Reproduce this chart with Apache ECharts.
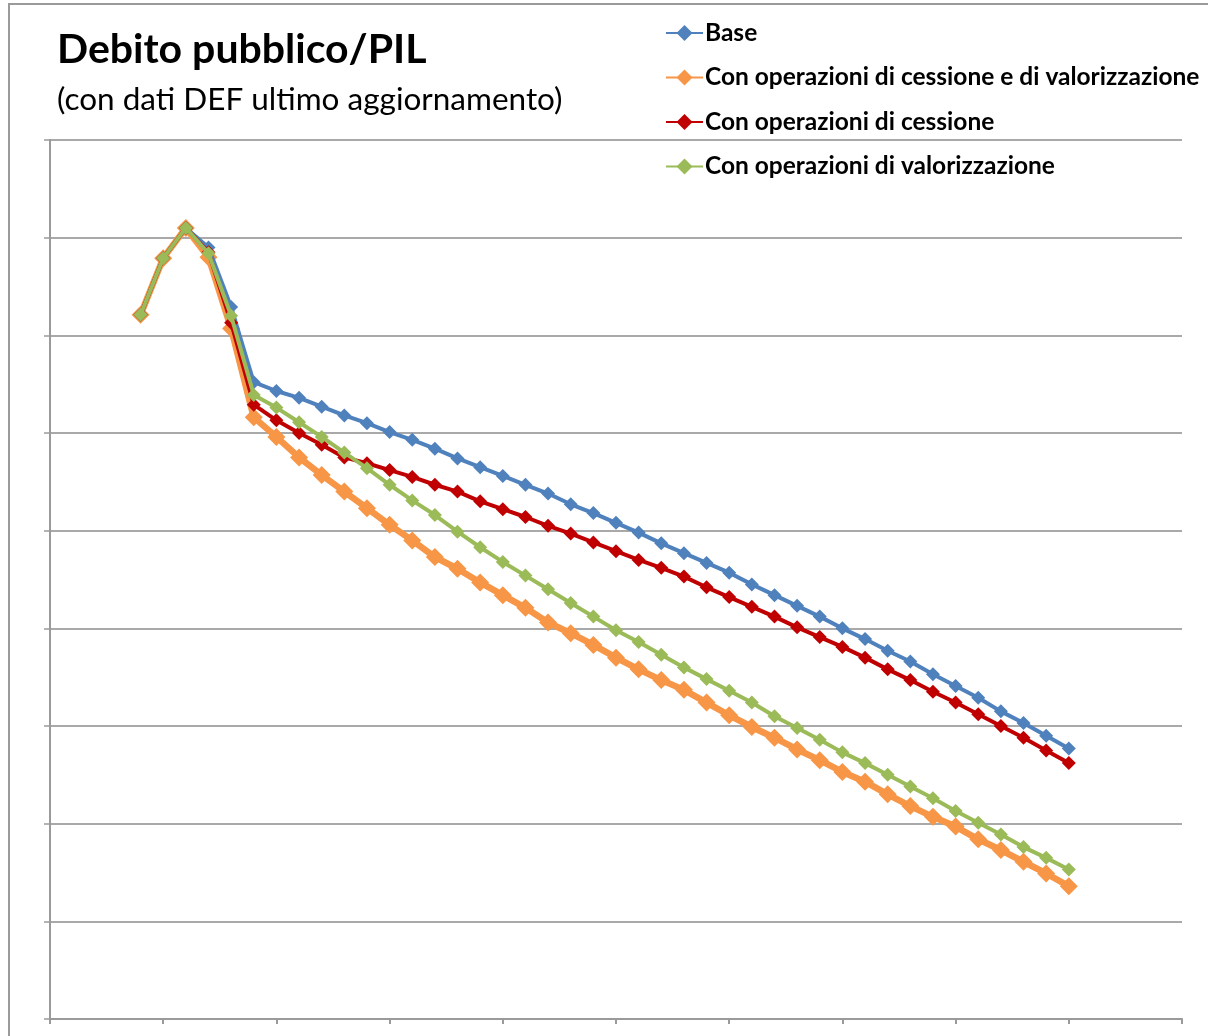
<!DOCTYPE html>
<html>
<head>
<meta charset="utf-8">
<script src="https://cdn.jsdelivr.net/npm/echarts@6/dist/echarts.min.js"></script>
<style>
html,body{margin:0;padding:0;background:#fff;}
#chart{width:1208px;height:1036px;}
</style>
</head>
<body>
<div id="chart"></div>
<script>
// categories: 51 positions (years), ticks every 5
const categories = [];
for (let y = 2007; y <= 2057; y++) categories.push(String(y));

const seriesNames = [
  'Base',
  'Con operazioni di cessione e di valorizzazione',
  'Con operazioni di cessione',
  'Con operazioni di valorizzazione'
];

const N = null;
const base = [N,N,N,N,
  122.1,127.9,131.0,129.0,122.9,115.2,114.3,113.6,112.7,111.8,111.0,110.1,109.3,108.4,107.4,106.5,
  105.6,104.7,103.8,102.7,101.8,100.8,99.8,98.7,97.7,96.7,95.7,94.5,93.4,92.3,91.2,90.0,
  88.9,87.7,86.6,85.3,84.1,82.9,81.5,80.3,79.0,77.7,
  N,N,N,N,N];
const cessioneValorizzazione = [N,N,N,N,
  122.1,127.9,131.0,128.0,120.7,111.6,109.6,107.5,105.7,104.0,102.3,100.6,99.0,97.3,96.1,94.7,
  93.4,92.1,90.6,89.5,88.3,87.0,85.8,84.7,83.7,82.4,81.1,79.9,78.8,77.6,76.5,75.3,
  74.3,73.0,71.8,70.7,69.7,68.4,67.3,66.1,64.9,63.6,
  N,N,N,N,N];
const cessione = [N,N,N,N,
  122.1,127.9,131.0,128.5,121.3,112.9,111.3,110.0,108.8,107.5,106.9,106.2,105.5,104.7,104.0,103.0,
  102.2,101.4,100.5,99.7,98.8,97.9,97.0,96.2,95.3,94.2,93.2,92.2,91.2,90.1,89.1,88.1,
  87.0,85.8,84.7,83.5,82.4,81.2,80.0,78.8,77.5,76.2,
  N,N,N,N,N];
const valorizzazione = [N,N,N,N,
  122.1,127.9,131.0,128.4,122.0,113.9,112.6,111.1,109.6,108.0,106.4,104.7,103.1,101.6,99.9,98.3,
  96.8,95.4,94.0,92.6,91.2,89.8,88.6,87.3,86.0,84.8,83.6,82.4,81.0,79.8,78.6,77.3,
  76.2,75.0,73.8,72.6,71.3,70.1,68.9,67.6,66.5,65.3,
  N,N,N,N,N];

const colors = {
  base: '#4F81BD',
  cv: '#F79646',
  c: '#C00000',
  v: '#9BBB59'
};

const chart = echarts.init(document.getElementById('chart'), null, {renderer: 'canvas'});

function mkSeries(name, data, color, width, size, z) {
  return {
    name: name,
    type: 'line',
    data: data,
    symbol: 'diamond',
    symbolSize: size,
    showSymbol: true,
    showAllSymbol: true,
    connectNulls: false,
    animation: false,
    z: z,
    lineStyle: {color: color, width: width},
    itemStyle: {color: color, borderWidth: 0},
    emphasis: {disabled: true}
  };
}

const option = {
  animation: false,
  backgroundColor: '#ffffff',
  title: {
    text: 'Debito pubblico/PIL',
    subtext: '(con dati DEF ultimo aggiornamento)',
    left: 52,
    top: 24,
    itemGap: 14,
    textStyle: {fontFamily: 'Lato', fontWeight: 'bold', fontSize: 41, color: '#000'},
    subtextStyle: {fontFamily: 'Lato', fontWeight: 'normal', fontSize: 31.5, color: '#000'}
  },
  legend: {
    orient: 'vertical',
    left: 660,
    top: 15,
    itemWidth: 37,
    itemHeight: 20,
    itemGap: 18.5,
    data: seriesNames,
    textStyle: {fontFamily: 'Lato', fontWeight: 'bold', fontSize: 24.5, lineHeight: 26, color: '#000', padding: [0,0,0,-3]},
    selectedMode: false
  },
  grid: {left: 50, right: 26, top: 140, bottom: 17, containLabel: false},
  xAxis: {
    type: 'category',
    data: categories,
    boundaryGap: false,
    axisLine: {show: true, lineStyle: {color: '#9a9a9a', width: 2}},
    axisTick: {show: true, interval: 4, length: 5, inside: false, lineStyle: {color: '#9a9a9a', width: 2}},
    axisLabel: {show: false},
    splitLine: {show: false}
  },
  yAxis: {
    type: 'value',
    min: 50,
    max: 140,
    interval: 10,
    axisLine: {show: true, lineStyle: {color: '#9a9a9a', width: 2}},
    axisTick: {show: true, length: 6, lineStyle: {color: '#9a9a9a', width: 1.5}},
    axisLabel: {show: false},
    splitLine: {show: true, lineStyle: {color: '#8c8c8c', width: 1.5}}
  },
  graphic: [{
    type: 'rect',
    shape: {x: 9, y: 4, width: 1300, height: 1100},
    style: {fill: 'none', stroke: '#9a9a9a', lineWidth: 2},
    silent: true,
    z: -1
  }],
  series: [
    mkSeries(seriesNames[1], cessioneValorizzazione, colors.cv, 6.5, 18, 2),
    mkSeries(seriesNames[0], base, colors.base, 4, 14, 3),
    mkSeries(seriesNames[2], cessione, colors.c, 4, 14, 4),
    mkSeries(seriesNames[3], valorizzazione, colors.v, 4, 14, 5)
  ]
};
chart.setOption(option);
</script>
</body>
</html>
